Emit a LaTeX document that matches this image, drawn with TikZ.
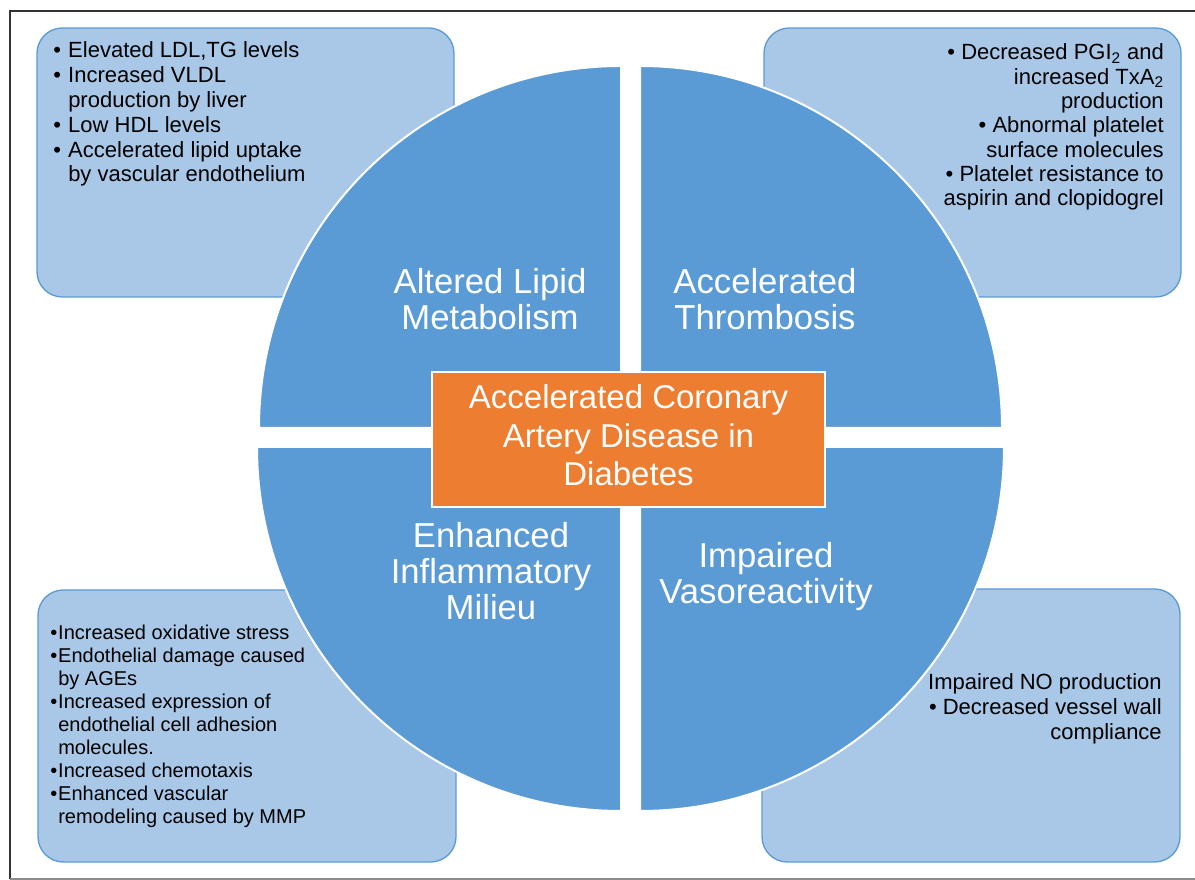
\documentclass[tikz,border=0pt]{standalone}
\usepackage{fontspec}
\setmainfont{Liberation Sans}
\definecolor{quadblue}{HTML}{5B9BD5}
\definecolor{boxblue}{HTML}{A9C8E8}
\definecolor{boxedge}{HTML}{5B9BD5}
\definecolor{coreorange}{HTML}{ED7D31}
\begin{document}
\begin{tikzpicture}[x=0.75pt,y=0.75pt,
  infobox/.style={fill=boxblue, draw=boxedge, line width=1pt, rounded corners=19pt},
  quadrant/.style={fill=quadblue, draw=white, line width=1.5pt},
  quadtitle/.style={text=white, inner sep=0pt},
  infotext/.style={text=black, inner sep=0pt},
  corebox/.style={fill=coreorange, draw=white, line width=1.5pt, text=white,
    inner sep=0pt, minimum width=294.75pt, minimum height=101.25pt,
    font=\fontsize{24.75}{29}\selectfont}
]
\useasboundingbox (0,0) rectangle (1195,880);

% frame
\draw[line width=1.1pt, black!80] (1195,869) -- (10,869) -- (10,1);
\draw[line width=1.1pt, black!45] (10,1) -- (1195,1);

% detail boxes behind the circle
\path[infobox] (37,583) rectangle (454,852);
\path[infobox] (764,583) rectangle (1181,852);
\path[infobox] (38,18) rectangle (456,290);
\path[infobox] (762,18) rectangle (1180,291);

% four quadrants of the circle
\path[quadrant] (621,452) -- (259,452) arc[start angle=180, end angle=90, radius=271.5pt] -- cycle;
\path[quadrant] (640,452) -- (640,814) arc[start angle=90, end angle=0, radius=271.5pt] -- cycle;
\path[quadrant] (621,433) -- (257,433) arc[start angle=180, end angle=270, radius=273pt] -- cycle;
\path[quadrant] (640,433) -- (640,69) arc[start angle=270, end angle=360, radius=273pt] -- cycle;

% central box
\node[corebox] (core) at (628.5,440.5)
  {\begin{tabular}{@{}c@{}}Accelerated Coronary\\Artery Disease in\\Diabetes\end{tabular}};

% quadrant titles
\node[quadtitle, anchor=base, font=\fontsize{26}{25}\selectfont] (lipid) at (490,586)
  {\begin{tabular}[t]{@{}c@{}}Altered Lipid\\Metabolism\end{tabular}};
\node[quadtitle, anchor=base, font=\fontsize{26}{25}\selectfont] (thrombosis) at (765,586)
  {\begin{tabular}[t]{@{}c@{}}Accelerated\\Thrombosis\end{tabular}};
\node[quadtitle, anchor=base, font=\fontsize{26}{27}\selectfont] (inflammation) at (491,332)
  {\begin{tabular}[t]{@{}c@{}}Enhanced\\Inflammatory\\Milieu\end{tabular}};
\node[quadtitle, anchor=base, font=\fontsize{26}{25.5}\selectfont] (vaso) at (766,312)
  {\begin{tabular}[t]{@{}c@{}}Impaired\\Vasoreactivity\end{tabular}};

% detail lists
\node[infotext, anchor=base west, font=\fontsize{16.5}{18.6}\selectfont] (lipidlist) at (53,822)
  {\begin{tabular}[t]{@{}p{11.25pt}@{}l@{}}
   \textbullet & Elevated LDL,TG levels\\
   \textbullet & Increased VLDL\\
               & production by liver\\
   \textbullet & Low HDL levels\\
   \textbullet & Accelerated lipid uptake\\
               & by vascular endothelium
   \end{tabular}};

\node[infotext, anchor=base east, font=\fontsize{16.5}{18.2}\selectfont] (thrombolist) at (1164,820)
  {\begin{tabular}[t]{@{}r@{}}
   \textbullet\ Decreased PGI\textsubscript{2} and\\
   increased TxA\textsubscript{2}\\
   production\\
   \textbullet\ Abnormal platelet\\
   surface molecules\\
   \textbullet\ Platelet resistance to\\
   aspirin and clopidogrel
   \end{tabular}};

\node[infotext, anchor=base west, font=\fontsize{15}{17.2}\selectfont] (inflamlist) at (50,240)
  {\begin{tabular}[t]{@{}p{6pt}@{}l@{}}
   \textbullet & Increased oxidative stress\\
   \textbullet & Endothelial damage caused\\
               & by AGEs\\
   \textbullet & Increased expression of\\
               & endothelial cell adhesion\\
               & molecules.\\
   \textbullet & Increased chemotaxis\\
   \textbullet & Enhanced vascular\\
               & remodeling caused by MMP
   \end{tabular}};

\node[infotext, anchor=base east, font=\fontsize{16.5}{18.75}\selectfont] (vasolist) at (1162,190)
  {\begin{tabular}[t]{@{}r@{}}
   Impaired NO production\\
   \textbullet\ Decreased vessel wall\\
   compliance
   \end{tabular}};
\end{tikzpicture}
\end{document}
